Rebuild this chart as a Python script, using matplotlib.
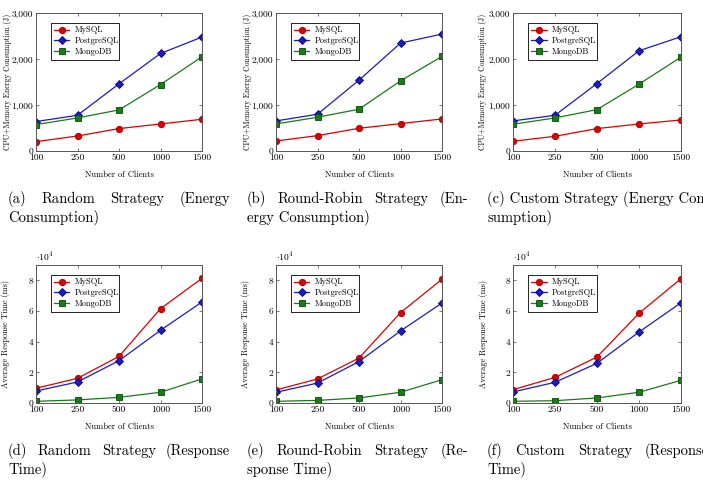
import matplotlib
matplotlib.use("Agg")
import matplotlib.pyplot as plt
from matplotlib.ticker import FuncFormatter, MultipleLocator
import numpy as np

plt.rcParams['font.family'] = ['cmr10', 'DejaVu Serif']
plt.rcParams['mathtext.fontset'] = 'cm'
plt.rcParams['axes.unicode_minus'] = False

# Data
clients = ['100', '250', '500', '1000', '1500']
dbs = ['MySQL', 'PostgreSQL', 'MongoDB']

# energy consumption (J)
energy_random = {
    'MySQL': [203, 327, 487, 588, 690],
    'PostgreSQL': [640, 777, 1460, 2120, 2477],
    'MongoDB': [574, 719, 893, 1445, 2048],
}
energy_rr = {
    'MySQL': [218, 334, 494, 596, 697],
    'PostgreSQL': [654, 799, 1540, 2346, 2542],
    'MongoDB': [588, 734, 908, 1525, 2056],
}
energy_custom = {
    'MySQL': [211, 320, 487, 588, 675],
    'PostgreSQL': [654, 777, 1467, 2179, 2484],
    'MongoDB': [581, 719, 900, 1453, 2041],
}

# average response time (ms)
resp_random = {
    'MySQL': [9600, 16100, 30400, 61500, 81300],
    'PostgreSQL': [7800, 13700, 27600, 47400, 65900],
    'MongoDB': [1100, 2000, 3700, 7000, 15700],
}
resp_rr = {
    'MySQL': [8500, 15700, 29300, 58900, 80700],
    'PostgreSQL': [7000, 13000, 27000, 47000, 65200],
    'MongoDB': [1100, 1700, 3300, 7000, 15200],
}
resp_custom = {
    'MySQL': [8700, 16700, 30000, 58500, 81100],
    'PostgreSQL': [7200, 13500, 25900, 46300, 65400],
    'MongoDB': [1100, 1500, 3300, 7000, 14800],
}

styles = {
    'MySQL': dict(color='#dc0000', marker='o', mec='#a00000'),
    'PostgreSQL': dict(color='#1c1cc0', marker='D', mec='#00008c'),
    'MongoDB': dict(color='#1a7a1a', marker='s', mec='#004d00'),
}
msize = {'MySQL': 4.6, 'PostgreSQL': 3.8, 'MongoDB': 4.3}

W, H = 703, 480
fig = plt.figure(figsize=(W / 100, H / 100), dpi=100)
renderer = fig.canvas.get_renderer()


def fit_size(text, target_px):
    #font size (pt) that makes text about target_px wide
    t = fig.text(0, 0, text, fontsize=10)
    w = t.get_window_extent(renderer).width
    t.remove()
    return 10 * target_px / w


leg_fs = fit_size('PostgreSQL', 44)
lab_fs = fit_size('Number of Clients', 69)
tick_fs = fit_size('1500', 19)
ylab_e_fs = fit_size('CPU+Memory Energy Consumption (J)', 137)
ylab_r_fs = fit_size('Average Response Time (ms)', 109)


def make_axes(l, r, t, b):
    return fig.add_axes([l / W, 1 - b / H, (r - l) / W, (b - t) / H])


def draw(ax, data, kind):
    x = np.arange(len(clients))
    for db in dbs:
        st = styles[db]
        ax.plot(x, data[db], color=st['color'], marker=st['marker'], mfc=st['color'],
                mec=st['mec'], mew=0.6, ms=msize[db], lw=0.9, label=db)
    ax.set_xlim(0, len(clients) - 1)
    ax.set_xticks(x)
    ax.set_xticklabels(clients)
    if kind == 'energy':
        ax.set_ylim(0, 3000)
        ax.yaxis.set_major_locator(MultipleLocator(1000))
        ax.yaxis.set_major_formatter(FuncFormatter(lambda v, p: f'{int(v):,}'))
        ax.set_ylabel('CPU+Memory Energy Consumption (J)', fontsize=ylab_e_fs)
    else:
        ax.set_ylim(0, 90000)
        ax.yaxis.set_major_locator(MultipleLocator(20000))
        ax.yaxis.set_major_formatter(FuncFormatter(lambda v, p: f'{int(round(v / 1e4))}'))
        ax.set_ylabel('Average Response Time (ms)', fontsize=ylab_r_fs)
        ax.text(0.0, 1.01, r'$\cdot 10^4$', transform=ax.transAxes, fontsize=tick_fs,
                ha='left', va='bottom')
    ax.set_xlabel('Number of Clients', fontsize=lab_fs)
    ax.xaxis.set_label_coords(0.5, -0.145)
    ax.tick_params(direction='in', length=2.5, width=0.5, labelsize=tick_fs, pad=2,
                   top=True, right=True, color='#444444')
    for s in ax.spines.values():
        s.set_color('#555555')
        s.set_linewidth(0.7)
    # legend box spans from x=0.09 to x=0.5 of the axes, like the reference
    leg = ax.legend(loc='upper left', bbox_to_anchor=(0.09, 0.5, 0.41, 0.43),
                    mode='expand', borderaxespad=0,
                    fontsize=leg_fs, fancybox=False, framealpha=1, edgecolor='black',
                    handlelength=1.8, labelspacing=0.3, borderpad=0.4,
                    handletextpad=0.6)
    leg.get_frame().set_linewidth(0.6)


panels = [
    ((36, 202, 13, 151), energy_random, 'energy', -0.145),
    ((276, 442, 13, 151), energy_rr, 'energy', -0.145),
    ((513, 681, 13, 151), energy_custom, 'energy', -0.155),
    ((36, 202, 265, 403), resp_random, 'resp', -0.155),
    ((276, 442, 265, 403), resp_rr, 'resp', -0.155),
    ((513, 681, 265, 403), resp_custom, 'resp', -0.15),
]

for box, data, kind, ylx in panels:
    ax = make_axes(*box)
    draw(ax, data, kind)
    ax.yaxis.set_label_coords(ylx, 0.5)

# captions
cap_size = 10.5
captions = [
    (8, 230, 199, '(a) Random Strategy (Energy', 'Consumption)', True),
    (247, 468, 199, '(b) Round-Robin Strategy (En-', 'ergy Consumption)', True),
    (487, None, 199, '(c) Custom Strategy (Energy Con', 'sumption)', False),
    (8, 230, 451, '(d) Random Strategy (Response', 'Time)', True),
    (247, 468, 451, '(e) Round-Robin Strategy (Re-', 'sponse Time)', True),
    (487, 709, 451, '(f) Custom Strategy (Response', 'Time)', True),
]

for left, right, ypx, line1, line2, justify in captions:
    y1 = 1 - ypx / H
    y2 = 1 - (ypx + 18) / H
    if justify:
        words = line1.split(' ')
        texts = [fig.text(0, y1, w, fontsize=cap_size, ha='left', va='center') for w in words]
        widths = [t.get_window_extent(renderer).width for t in texts]
        gap = (right - left - sum(widths)) / (len(words) - 1)
        xpos = left
        for t, w in zip(texts, widths):
            t.set_x(xpos / W)
            xpos += w + gap
    else:
        fig.text(left / W, y1, line1, fontsize=cap_size, ha='left', va='center')
    fig.text(left / W, y2, line2, fontsize=cap_size, ha='left', va='center')

fig.savefig('out.png', dpi=100)
